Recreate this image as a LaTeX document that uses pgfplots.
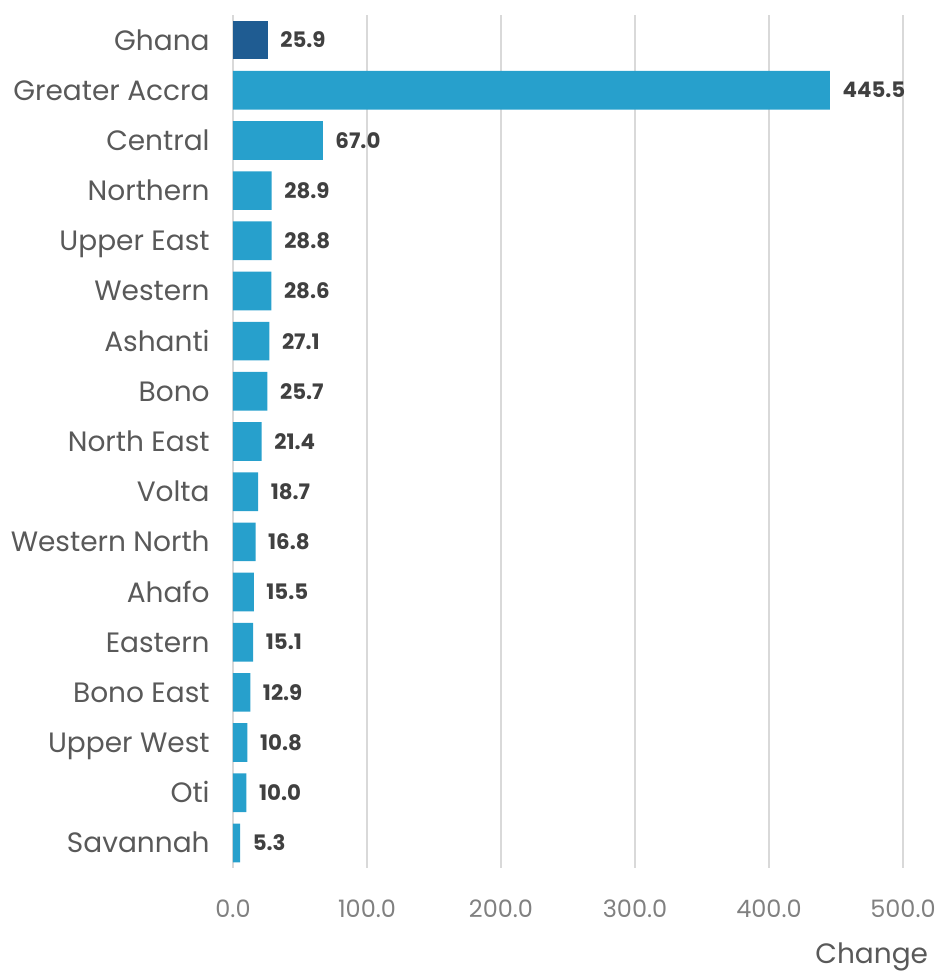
\documentclass[border=0pt]{standalone}
\usepackage{fontspec}
\setmainfont{Poppins}
\usepackage{pgfplots}
\pgfplotsset{compat=1.18}
\usetikzlibrary{calc}
\definecolor{darkbar}{HTML}{1F5C92}
\definecolor{bar}{HTML}{27A0CC}
\definecolor{gridc}{HTML}{D9D9D9}
\definecolor{labc}{HTML}{595959}
\definecolor{tickc}{HTML}{808080}
\definecolor{valc}{HTML}{404040}
\begin{document}
\begin{tikzpicture}
\begin{axis}[
  name=ax,
  scale only axis,
  width=502.5pt, height=639.75pt,
  xbar, bar width=29pt, bar shift=0pt,
  xmin=0, xmax=500,
  ymin=-0.5, ymax=16.5,
  y dir=reverse,
  xtick={0,100,...,500},
  ytick={0,...,16},
  yticklabels={Ghana,Greater Accra,Central,Northern,Upper East,Western,Ashanti,Bono,North East,Volta,Western North,Ahafo,Eastern,Bono East,Upper West,Oti,Savannah},
  axis line style={draw=none},
  major tick length=0pt,
  xmajorgrids, major grid style={gridc, line width=1pt},
  /pgf/number format/assume math mode=true,
  xticklabel style={font=\fontsize{18}{21}\selectfont, color=tickc, /pgf/number format/.cd, fixed, fixed zerofill, precision=1},
  xticklabel shift=20pt,
  yticklabel style={font=\fontsize{21}{25}\selectfont, color=labc, text height=15pt, text depth=0pt},
  yticklabel shift=14pt,
  nodes near coords,
  nodes near coords style={font=\bfseries\fontsize{16}{19}\selectfont, color=valc, anchor=west, xshift=6pt, /pgf/number format/.cd, fixed, fixed zerofill, precision=1},
  xlabel={Change},
  xlabel style={font=\fontsize{21}{25}\selectfont, color=labc, at={(rel axis cs:1,0)}, anchor=north east, inner sep=0pt, xshift=19pt, yshift=-56pt},
]
\addplot[fill=darkbar, draw=none] coordinates {(25.9,0)};
\addplot[fill=bar, draw=none] coordinates {
  (445.5,1) (67.0,2) (28.9,3) (28.8,4) (28.6,5) (27.1,6) (25.7,7) (21.4,8)
  (18.7,9) (16.8,10) (15.5,11) (15.1,12) (12.9,13) (10.8,14) (10.0,15) (5.3,16)
};
\end{axis}
\path ($(ax.south west)+(-174.75pt,-79.5pt)$) rectangle ($(ax.north east)+(24.75pt,11.25pt)$);
\end{tikzpicture}
\end{document}
